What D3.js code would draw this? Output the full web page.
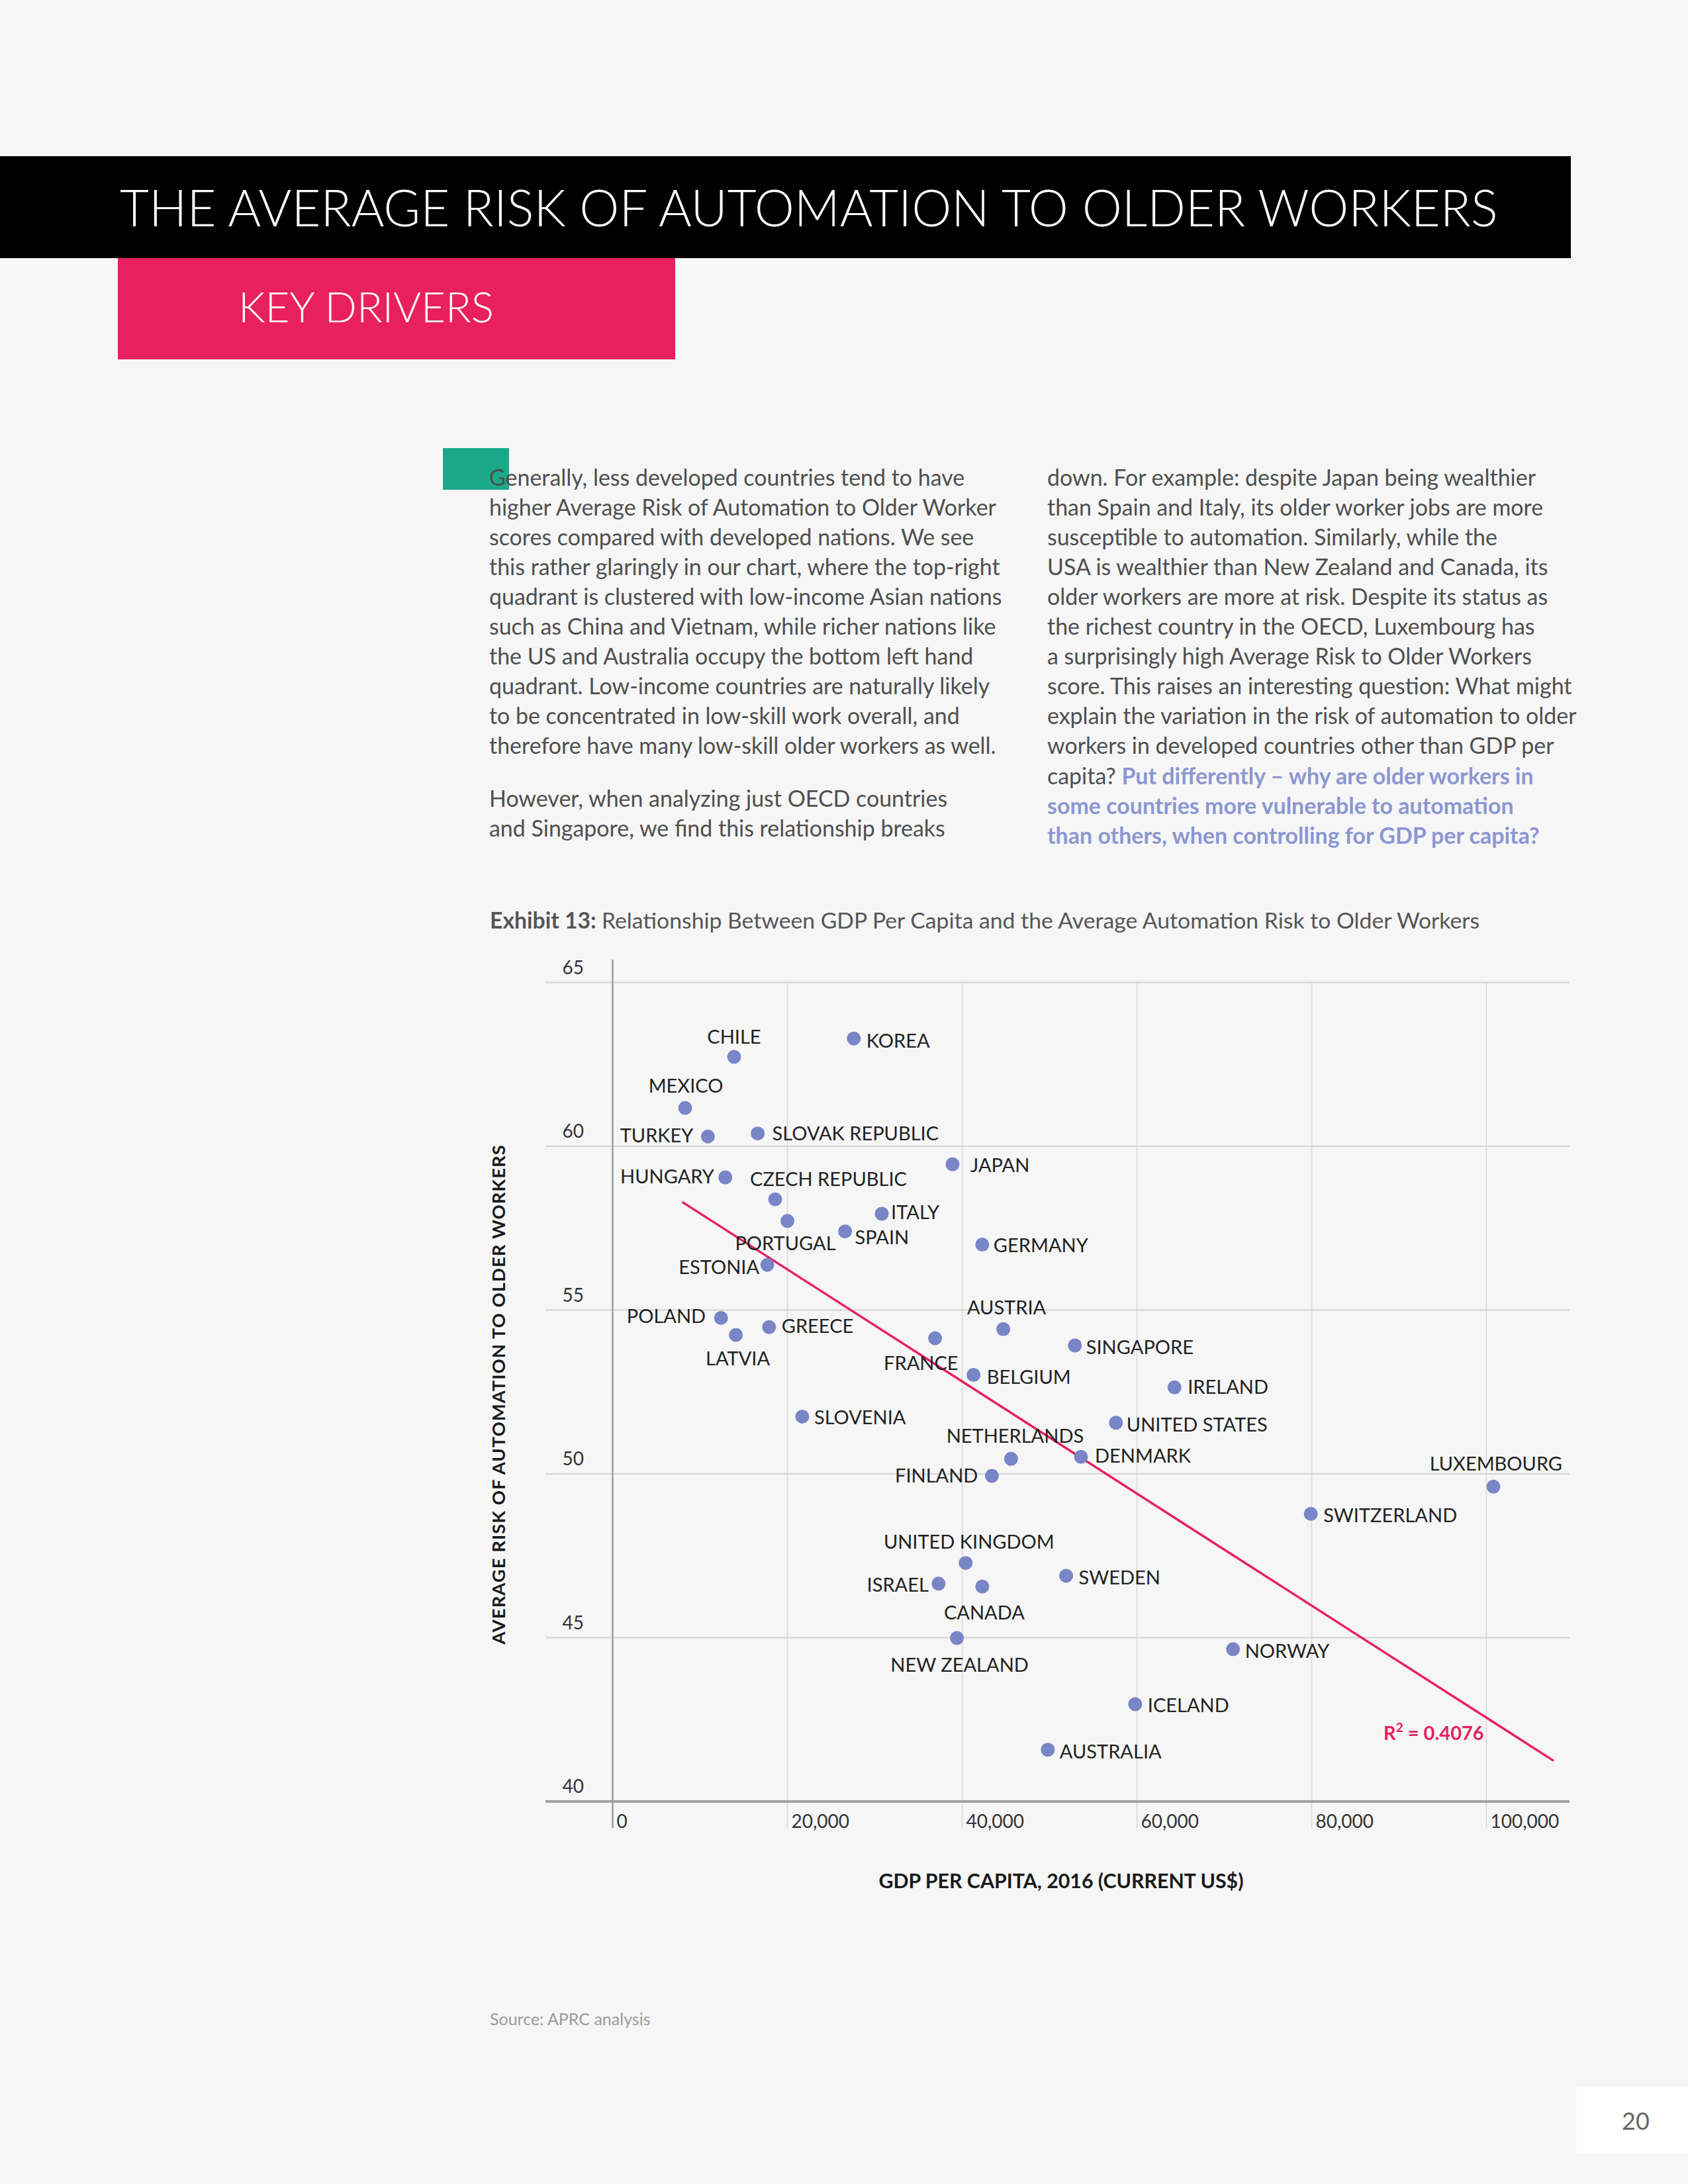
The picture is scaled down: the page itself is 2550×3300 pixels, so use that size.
<!DOCTYPE html>
<html>
<head>
<meta charset="utf-8">
<script src="https://cdn.jsdelivr.net/npm/d3@7"></script>
<style>
  body { margin: 0; background: #f6f6f6; }
  svg { display: block; font-family: Lato, "Open Sans", sans-serif; }
</style>
</head>
<body>
<svg id="page"></svg>
<script>
const width = 2550;
const height = 3300;

// Chart data
const countries = ["CHILE", "KOREA", "MEXICO", "TURKEY", "SLOVAK REPUBLIC", "HUNGARY", "JAPAN",
  "CZECH REPUBLIC", "PORTUGAL", "ITALY", "SPAIN", "GERMANY", "ESTONIA", "POLAND", "LATVIA",
  "GREECE", "FRANCE", "AUSTRIA", "SINGAPORE", "BELGIUM", "IRELAND", "SLOVENIA", "UNITED STATES",
  "NETHERLANDS", "DENMARK", "FINLAND", "LUXEMBOURG", "SWITZERLAND", "UNITED KINGDOM", "ISRAEL",
  "CANADA", "SWEDEN", "NEW ZEALAND", "NORWAY", "ICELAND", "AUSTRALIA"];
const gdp = [13900, 27600, 8300, 10900, 16600, 12900, 38900, 18600, 20000, 30800, 26600, 42300,
  17700, 12400, 14100, 17900, 36900, 44700, 52900, 41300, 64300, 21700, 57600, 45600, 53600,
  43400, 100800, 79900, 40400, 37300, 42300, 51900, 39400, 71000, 59800, 49800];
const risk = [62.73, 63.29, 61.17, 60.30, 60.39, 59.05, 59.45, 58.38, 57.72, 57.94, 57.40, 57.00,
  56.38, 54.76, 54.24, 54.48, 54.14, 54.42, 53.92, 53.02, 52.64, 51.75, 51.56, 50.46, 50.52,
  49.94, 49.61, 48.78, 47.28, 46.65, 46.56, 46.89, 44.99, 44.65, 42.97, 41.58];

// Trend line end points as drawn
const trendGdp = [7960, 107700];
const trendRisk = [58.30, 41.24];
const rSquared = "0.4076";

const xTicks = [0, 20000, 40000, 60000, 80000, 100000];
const yTicks = [40, 45, 50, 55, 60, 65];

// Label placement next to each dot: dx, dy, anchor
const labelPlacement = {
  "CHILE": [0, -20, "middle"], "KOREA": [19, 14, "start"], "MEXICO": [1, -23, "middle"],
  "TURKEY": [-22, 9, "end"], "SLOVAK REPUBLIC": [22, 10, "start"], "HUNGARY": [-17, 9, "end"],
  "JAPAN": [27, 12, "start"], "CZECH REPUBLIC": [-38, -20, "start"], "PORTUGAL": [-3, 44, "middle"],
  "ITALY": [14, 8, "start"], "SPAIN": [15, 19, "start"], "GERMANY": [17, 11, "start"],
  "ESTONIA": [-12, 14, "end"], "POLAND": [-23, 8, "end"], "LATVIA": [3, 46, "middle"],
  "GREECE": [19, 9, "start"], "FRANCE": [35, 48, "end"], "AUSTRIA": [5, -22, "middle"],
  "SINGAPORE": [17, 13, "start"], "BELGIUM": [20, 13, "start"], "IRELAND": [20, 10, "start"],
  "SLOVENIA": [18, 12, "start"], "UNITED STATES": [16, 13, "start"], "NETHERLANDS": [6, -24, "middle"],
  "DENMARK": [21, 9, "start"], "FINLAND": [-21, 10, "end"], "LUXEMBOURG": [104, -24, "end"],
  "SWITZERLAND": [19, 13, "start"], "UNITED KINGDOM": [5, -22, "middle"], "ISRAEL": [-15, 12, "end"],
  "CANADA": [3, 50, "middle"], "SWEDEN": [19, 13, "start"], "NEW ZEALAND": [4, 51, "middle"],
  "NORWAY": [18, 13, "start"], "ICELAND": [19, 12, "start"], "AUSTRALIA": [18, 13, "start"]
};

// Body copy, one entry per printed line
const leftLines = [
  "Generally, less developed countries tend to have",
  "higher Average Risk of Automation to Older Worker",
  "scores compared with developed nations. We see",
  "this rather glaringly in our chart, where the top-right",
  "quadrant is clustered with low-income Asian nations",
  "such as China and Vietnam, while richer nations like",
  "the US and Australia occupy the bottom left hand",
  "quadrant. Low-income countries are naturally likely",
  "to be concentrated in low-skill work overall, and",
  "therefore have many low-skill older workers as well."
];
const leftLines2 = [
  "However, when analyzing just OECD countries",
  "and Singapore, we find this relationship breaks"
];
const rightLines = [
  [["down. For example: despite Japan being wealthier", false]],
  [["than Spain and Italy, its older worker jobs are more", false]],
  [["susceptible to automation. Similarly, while the", false]],
  [["USA is wealthier than New Zealand and Canada, its", false]],
  [["older workers are more at risk. Despite its status as", false]],
  [["the richest country in the OECD, Luxembourg has", false]],
  [["a surprisingly high Average Risk to Older Workers", false]],
  [["score. This raises an interesting question: What might", false]],
  [["explain the variation in the risk of automation to older", false]],
  [["workers in developed countries other than GDP per", false]],
  [["capita? ", false], ["Put differently \u2013 why are older workers in", true]],
  [["some countries more vulnerable to automation", true]],
  [["than others, when controlling for GDP per capita?", true]]
];

const pink = "#e8205f";
const dotColor = "#7885c6";
const textGrey = "#4f4f4f";
const blueText = "#8b96d2";

const svg = d3.select("#page").attr("width", width).attr("height", height)
  .attr("viewBox", `0 0 ${width} ${height}`);

svg.append("rect").attr("width", width).attr("height", height).attr("fill", "#f6f6f6");

// scale a text so it spans a given width
function fitWidth(sel, target) {
  const cur = sel.node().getComputedTextLength();
  const fs = parseFloat(sel.attr("font-size"));
  sel.attr("font-size", fs * target / cur);
  return fs * target / cur;
}

// Header bars
svg.append("rect").attr("x", 0).attr("y", 236).attr("width", 2373).attr("height", 154).attr("fill", "#000");
const title = svg.append("text").attr("x", 181).attr("y", 342)
  .attr("font-size", 76).attr("font-weight", 300).attr("fill", "#fff")
  .text("THE AVERAGE RISK OF AUTOMATION TO OLDER WORKERS");
fitWidth(title, 2082);

svg.append("rect").attr("x", 178).attr("y", 390).attr("width", 842).attr("height", 153).attr("fill", pink);
const sub = svg.append("text").attr("x", 360).attr("y", 487)
  .attr("font-size", 64).attr("font-weight", 300).attr("fill", "#fff").text("KEY DRIVERS");
fitWidth(sub, 386);

// Green marker then body copy
svg.append("rect").attr("x", 669).attr("y", 677).attr("width", 100).attr("height", 63).attr("fill", "#1aaa8a");

const lineH = 45.1;
const leftText = svg.append("g").attr("fill", textGrey);
leftText.selectAll("text.l1").data(leftLines).join("text").attr("class", "l1")
  .attr("x", 739).attr("y", (d, i) => 733.5 + i * lineH).attr("font-size", 31).text(d => d);
leftText.selectAll("text.l2").data(leftLines2).join("text").attr("class", "l2")
  .attr("x", 739).attr("y", (d, i) => 1219 + i * lineH).attr("font-size", 31).text(d => d);
const bodySize = fitWidth(leftText.select("text:nth-child(4)"), 772);
leftText.selectAll("text").attr("font-size", bodySize);

const rightText = svg.append("g");
rightText.selectAll("text").data(rightLines).join("text")
  .attr("x", 1582).attr("y", (d, i) => 733.5 + i * lineH).attr("font-size", bodySize)
  .selectAll("tspan").data(d => d).join("tspan")
  .attr("fill", d => d[1] ? blueText : textGrey)
  .attr("font-weight", d => d[1] ? 700 : 400)
  .text(d => d[0]);

// Exhibit caption
const cap = svg.append("text").attr("x", 740).attr("y", 1403).attr("font-size", 31).attr("fill", "#555");
cap.append("tspan").attr("font-weight", 700).text("Exhibit 13: ");
cap.append("tspan").text("Relationship Between GDP Per Capita and the Average Automation Risk to Older Workers");
fitWidth(cap, 1496);

// Scales
const x = d3.scaleLinear().domain([0, 100000]).range([925.5, 2245.5]);
const y = d3.scaleLinear().domain([40, 65]).range([2722, 1484.5]);
const gridLeft = 824;
const gridRight = 2371;
const tickBottom = 2762;

// vertical grid lines (x ticks)
svg.append("g").selectAll("line").data(xTicks.filter(d => d > 0)).join("line")
  .attr("x1", d => x(d)).attr("x2", d => x(d))
  .attr("y1", y(65)).attr("y2", tickBottom)
  .attr("stroke", "#d9d9d9").attr("stroke-width", 1.6);

// horizontal grid lines (y ticks)
svg.append("g").selectAll("line").data(yTicks.filter(d => d > 40)).join("line")
  .attr("x1", gridLeft).attr("x2", gridRight)
  .attr("y1", d => y(d)).attr("y2", d => y(d))
  .attr("stroke", "#d2d2d2").attr("stroke-width", 2.2);

// axis lines
svg.append("line").attr("x1", gridLeft).attr("x2", gridRight).attr("y1", y(40)).attr("y2", y(40))
  .attr("stroke", "#a3a3a3").attr("stroke-width", 4);
svg.append("line").attr("x1", x(0)).attr("x2", x(0)).attr("y1", 1450).attr("y2", tickBottom)
  .attr("stroke", "#9a9a9a").attr("stroke-width", 2.5);

// tick labels
svg.append("g").selectAll("text").data(yTicks).join("text")
  .attr("x", 882).attr("y", d => y(d) - 13).attr("text-anchor", "end")
  .attr("font-size", 28).attr("fill", "#333").text(d => d);
svg.append("g").selectAll("text").data(xTicks).join("text")
  .attr("x", d => x(d) + 6).attr("y", tickBottom).attr("font-size", 28).attr("fill", "#333")
  .text(d => d3.format(",")(d));

// axis titles
const xTitle = svg.append("text").attr("x", 1603).attr("y", 2853).attr("text-anchor", "middle")
  .attr("font-size", 28).attr("font-weight", 700).attr("fill", "#1a1a1a")
  .text("GDP PER CAPITA, 2016 (CURRENT US$)");
fitWidth(xTitle, 551);
const yTitle = svg.append("text").attr("transform", "translate(763,2107) rotate(-90)")
  .attr("text-anchor", "middle").attr("font-size", 28).attr("font-weight", 700).attr("fill", "#1a1a1a")
  .attr("letter-spacing", 1)
  .text("AVERAGE RISK OF AUTOMATION TO OLDER WORKERS");
fitWidth(yTitle, 755);

// trend line
const line = d3.line().x(d => x(d[0])).y(d => y(d[1]));
svg.append("path").attr("d", line(d3.zip(trendGdp, trendRisk)))
  .attr("fill", "none").attr("stroke", pink).attr("stroke-width", 3.5);

const r2 = svg.append("text").attr("x", 2090).attr("y", 2629).attr("font-size", 29)
  .attr("font-weight", 700).attr("fill", pink);
r2.append("tspan").text("R");
r2.append("tspan").attr("font-size", 19).attr("dy", -12).text("2");
r2.append("tspan").attr("dy", 12).text(" = " + rSquared);

// dots
const points = countries.map((c, i) => ({ name: c, gdp: gdp[i], risk: risk[i] }));
svg.append("g").selectAll("circle").data(points).join("circle")
  .attr("cx", d => x(d.gdp)).attr("cy", d => y(d.risk)).attr("r", 10.5)
  .attr("fill", dotColor);

// country labels
svg.append("g").selectAll("text").data(points).join("text")
  .attr("x", d => x(d.gdp) + labelPlacement[d.name][0])
  .attr("y", d => y(d.risk) + labelPlacement[d.name][1])
  .attr("text-anchor", d => labelPlacement[d.name][2])
  .attr("font-size", 29).attr("fill", "#222")
  .text(d => d.name);

// source and page number
svg.append("text").attr("x", 740).attr("y", 3060).attr("font-size", 25).attr("fill", "#9a9a9a")
  .text("Source: APRC analysis");
svg.append("rect").attr("x", 2382).attr("y", 3154).attr("width", 168).attr("height", 100).attr("fill", "#fff");
svg.append("text").attr("x", 2471).attr("y", 3218).attr("text-anchor", "middle").attr("font-size", 36)
  .attr("fill", "#666").text("20");
</script>
</body>
</html>
